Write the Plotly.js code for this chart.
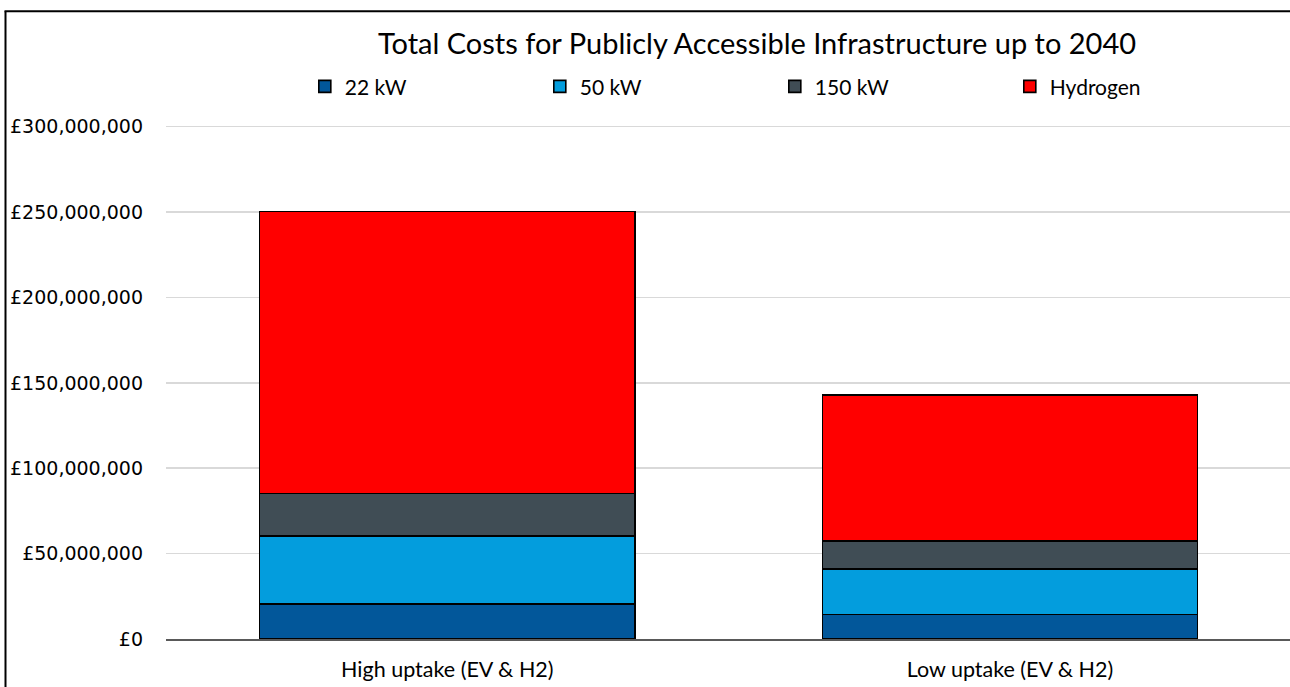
<!DOCTYPE html>
<html>
<head>
<meta charset="utf-8">
<script src="https://cdn.plot.ly/plotly-3.0.1.min.js"></script>
<style>
  html, body { margin: 0; padding: 0; background: #ffffff; }
  #chart { width: 1290px; height: 687px; }
</style>
</head>
<body>
<div id="chart"></div>
<script>
// ---- Data ----
const categories = ["High uptake (EV & H2)", "Low uptake (EV & H2)"];
const seriesNames = ["22 kW", "50 kW", "150 kW", "Hydrogen"];
const kw22 = [20500000, 14300000];
const kw50 = [39700000, 26700000];
const kw150 = [25000000, 16400000];
const hydrogen = [165200000, 85600000];
const yTickValues = [0, 50000000, 100000000, 150000000, 200000000, 250000000, 300000000];
const yTickLabels = ["£0", "£50,000,000", "£100,000,000", "£150,000,000", "£200,000,000", "£250,000,000", "£300,000,000"];
const chartTitle = "Total Costs for Publicly Accessible Infrastructure up to 2040";

// ---- Styles ----
const colors = ["#02579A", "#039DDD", "#404D55", "#FF0000"];
const seriesValues = [kw22, kw50, kw150, hydrogen];
const narrowFont = "Lato, 'Open Sans', sans-serif";

const traces = seriesNames.map((name, i) => ({
  type: "bar",
  name: name,
  x: categories,
  y: seriesValues[i],
  marker: { color: colors[i], line: { color: "#000000", width: 1.6 } },
  hoverinfo: "x+y+name"
}));

const pxPerUnit = 512 / 300000000;
const yMax = 301000000;
const plotH = yMax * pxPerUnit;

const layout = {
  width: 1290,
  height: 687,
  paper_bgcolor: "#ffffff",
  plot_bgcolor: "#ffffff",
  margin: { l: 166, r: 0, t: 687 - 48 - plotH, b: 48, pad: 0 },
  barmode: "stack",
  bargap: 0.333,
  showlegend: true,
  title: {
    text: chartTitle,
    font: { family: narrowFont, size: 29, color: "#000000" },
    xref: "container",
    x: 757 / 1290,
    xanchor: "center",
    yref: "container",
    y: 1 - 44 / 687,
    yanchor: "middle"
  },
  legend: {
    orientation: "h",
    traceorder: "normal",
    x: 0.1235,
    xanchor: "left",
    y: (639 - 87) / plotH,
    yanchor: "middle",
    entrywidth: 190,
    entrywidthmode: "pixels",
    font: { family: narrowFont, size: 21, color: "#000000" },
    bgcolor: "rgba(0,0,0,0)"
  },
  xaxis: {
    type: "category",
    range: [-0.5, 1 + (1290 - 1010) / 562.5],
    showgrid: false,
    showline: true,
    linecolor: "#595959",
    linewidth: 1.5,
    zeroline: false,
    ticks: "",
    ticklabelstandoff: 11,
    tickfont: { family: narrowFont, size: 21.5, color: "#000000" },
    fixedrange: true
  },
  yaxis: {
    range: [0, yMax],
    tickvals: yTickValues,
    ticktext: yTickLabels,
    showgrid: true,
    gridcolor: "#D9D9D9",
    gridwidth: 1.5,
    zeroline: false,
    showline: false,
    ticks: "",
    ticklabelstandoff: 22,
    tickfont: { family: "'DejaVu Sans', Verdana, sans-serif", size: 19, color: "#000000" },
    fixedrange: true
  },
  shapes: [
    { type: "line", xref: "paper", yref: "paper",
      x0: (5.5 - 166) / 1124, x1: (5.5 - 166) / 1124,
      y0: (639 - 11.5) / plotH, y1: (639 - 690) / plotH,
      line: { color: "#000000", width: 2 } },
    { type: "line", xref: "paper", yref: "paper",
      x0: (4.5 - 166) / 1124, x1: (1290 - 166) / 1124,
      y0: (639 - 11.5) / plotH, y1: (639 - 11.5) / plotH,
      line: { color: "#000000", width: 2 } }
  ]
};

Plotly.newPlot("chart", traces, layout, { displayModeBar: false, staticPlot: true });
</script>
</body>
</html>
